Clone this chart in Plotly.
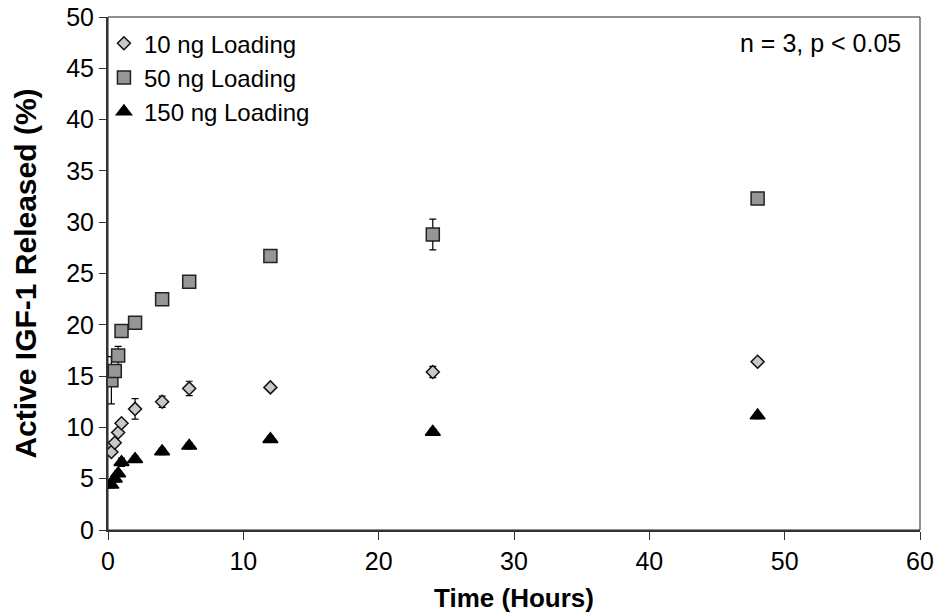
import plotly.graph_objects as go

time_h = [0.25, 0.5, 0.75, 1, 2, 4, 6, 12, 24, 48]

ng10 = [7.6, 8.5, 9.5, 10.4, 11.8, 12.5, 13.8, 13.9, 15.4, 16.4]
ng10_err = [0.3, 0.3, 0.3, 0.3, 1.0, 0.55, 0.7, 0.3, 0.55, 0.3]

ng50 = [14.6, 15.5, 17.0, 19.4, 20.2, 22.5, 24.2, 26.7, 28.8, 32.3]
ng50_err = [2.3, 0.5, 0.9, 0.5, 0.3, 0.3, 0.3, 0.45, 1.5, 0.4]

ng150 = [4.4, 5.0, 5.5, 6.6, 6.9, 7.65, 8.2, 8.85, 9.55, 11.15]
ng150_err = [0.3, 0.3, 0.3, 0.4, 0.3, 0.3, 0.3, 0.3, 0.3, 0.3]

names = ["10 ng Loading", "50 ng Loading", "150 ng Loading"]

FONT = "Liberation Sans, Arial, sans-serif"

fig = go.Figure()

def add(y, err, name, symbol, size, fill, outline):
    fig.add_trace(go.Scatter(
        x=time_h, y=y, name=name, mode="markers",
        marker=dict(symbol=symbol, size=size, color=fill,
                    line=dict(color=outline, width=1.5)),
        error_y=dict(type="data", array=err, visible=True,
                     color="black", thickness=1.2, width=3.5),
    ))

add(ng10, ng10_err, names[0], "diamond", 10, "#C8C8C8", "#111111")
add(ng50, ng50_err, names[1], "square", 13, "#969696", "#222222")
add(ng150, ng150_err, names[2], "triangle-up", 13, "black", "black")

fig.update_layout(
    width=936, height=615,
    margin=dict(l=108, r=16, t=17, b=85),
    paper_bgcolor="white", plot_bgcolor="white",
    font=dict(family=FONT, color="black", size=24),
    showlegend=True,
    legend=dict(x=-0.005, y=0.992, xanchor="left", yanchor="top",
                bgcolor="rgba(0,0,0,0)", borderwidth=0,
                font=dict(size=24, family=FONT)),
    annotations=[dict(text="n = 3, p < 0.05", xref="paper", yref="paper",
                      x=1, y=1, xanchor="right", yanchor="top",
                      xshift=-17, yshift=-10, showarrow=False,
                      font=dict(size=25, family=FONT))],
    shapes=[dict(type="rect", xref="paper", yref="paper", x0=0, y0=0, x1=1, y1=1,
                 line=dict(color="#222222", width=1), layer="below")],
)

fig.update_xaxes(
    range=[0, 60], dtick=10, tick0=0, automargin=False,
    showline=True, linecolor="#333333", linewidth=2,
    ticks="outside", ticklen=8, tickcolor="#333333", tickwidth=1,
    showgrid=False, zeroline=False, ticklabeloverflow="allow",
    tickfont=dict(size=25),
    title=dict(text="<b>Time (Hours)</b>", font=dict(size=26), standoff=15),
)
fig.update_yaxes(
    range=[0, 50], dtick=5, tick0=0, automargin=False,
    showline=True, linecolor="#333333", linewidth=2,
    ticks="outside", ticklen=7, tickcolor="#333333", tickwidth=1,
    showgrid=False, zeroline=False, ticklabeloverflow="allow",
    tickfont=dict(size=25),
    title=dict(text="<b>Active IGF-1 Released (%)</b>", font=dict(size=30), standoff=21),
)

# remove the page's default body margin so the 936x615 figure fills the window exactly
fig.write_html(
    "out.html",
    config={"displayModeBar": False},
    post_script="document.documentElement.style.overflow='hidden';"
                "document.body.style.margin='0';document.body.style.overflow='hidden';",
)
